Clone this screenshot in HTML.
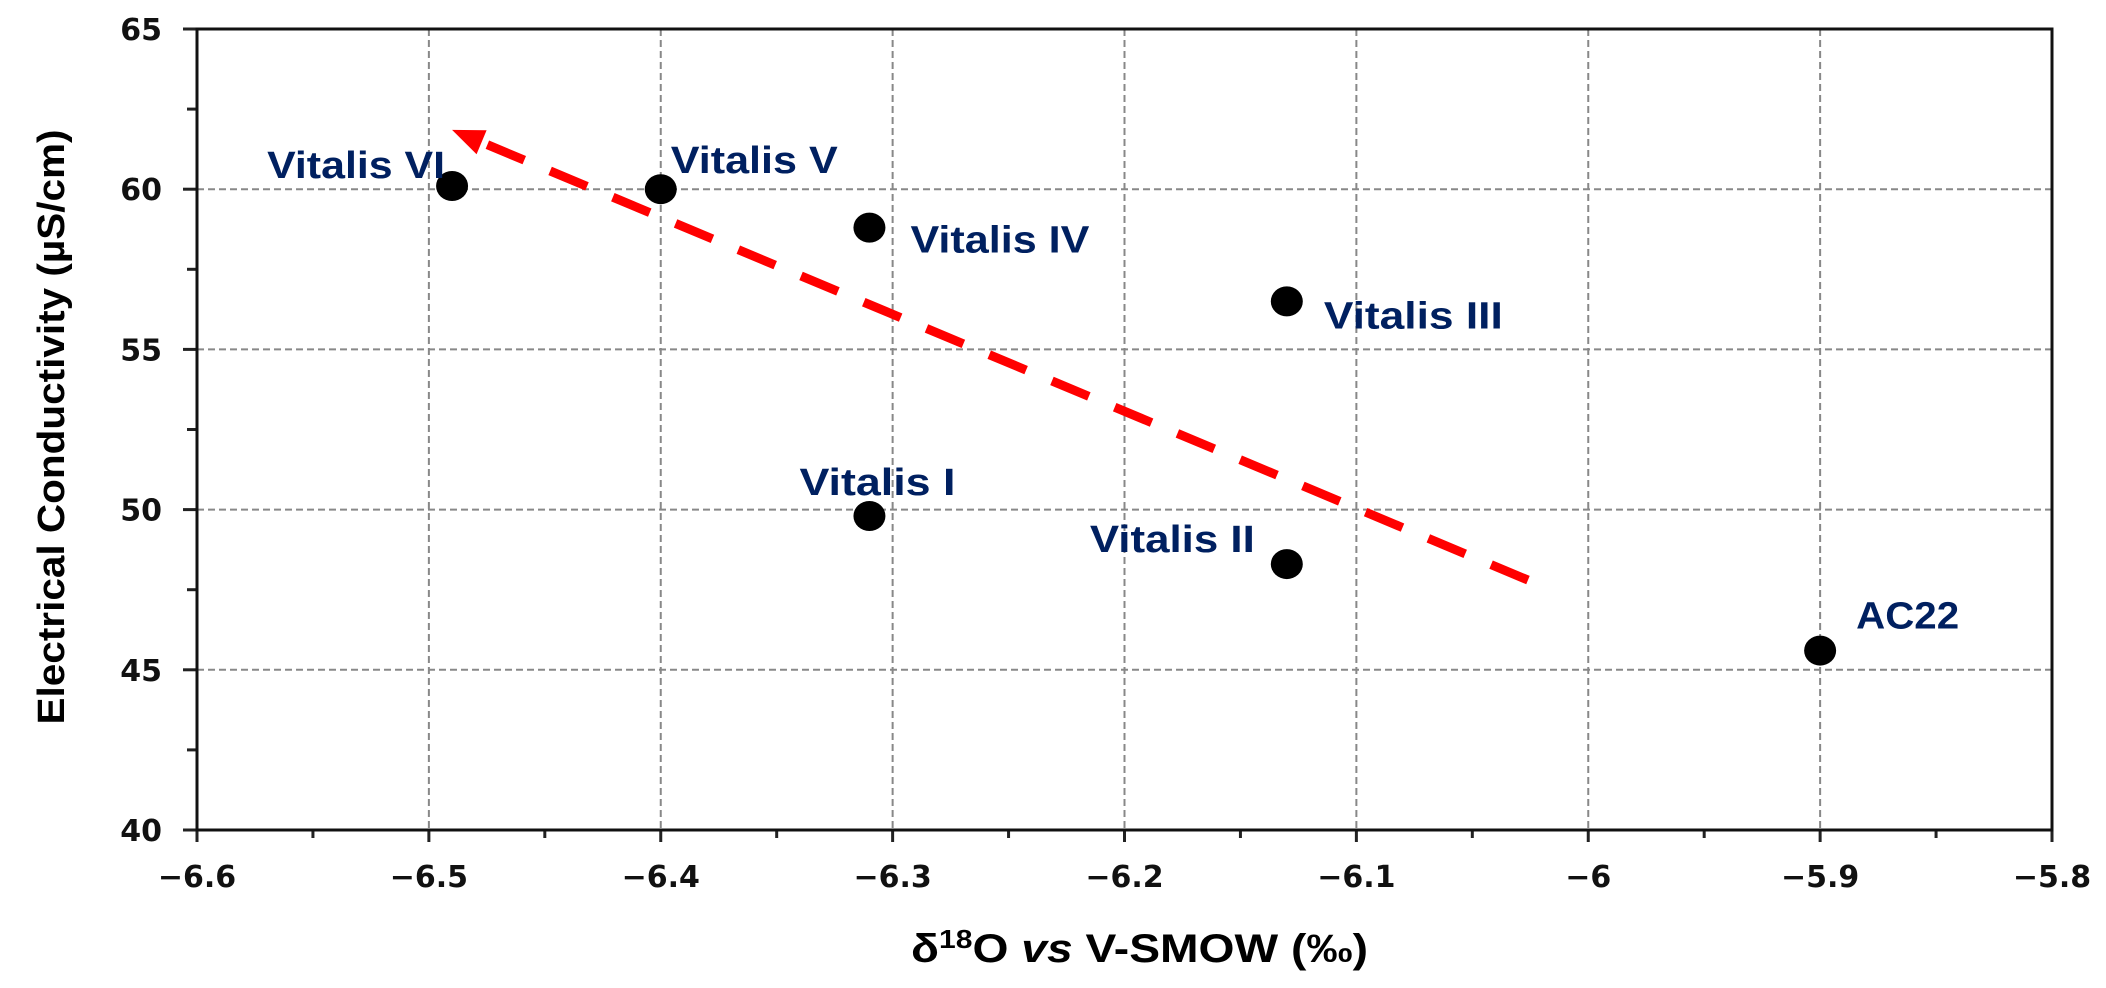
<!DOCTYPE html>
<html><head><meta charset="utf-8"><style>
html,body{margin:0;padding:0;background:#fff;}
svg{display:block;}
</style></head><body>
<svg id="chart" width="2106" height="988" viewBox="0 0 2106 988" xmlns="http://www.w3.org/2000/svg">
<g id="grid"></g>
<g id="axes"></g>
<g id="trend"></g>
<g id="points"></g>
<g id="labels"></g>
<text transform="translate(64,427) rotate(-90)" text-anchor="middle" font-family="Liberation Sans, sans-serif" font-weight="bold" font-size="38" textLength="595" lengthAdjust="spacingAndGlyphs">Electrical Conductivity (µS/cm)</text>
<text x="911" y="962" font-family="Liberation Sans, sans-serif" font-weight="bold" font-size="40" textLength="457" lengthAdjust="spacingAndGlyphs">δ<tspan font-size="26" dy="-14">18</tspan><tspan dy="14">O </tspan><tspan font-style="italic">vs</tspan> V-SMOW (‰)</text>
</svg>
<script>
const sampleNames = ["Vitalis VI","Vitalis V","Vitalis IV","Vitalis III","Vitalis I","Vitalis II","AC22"];
const d18O = [-6.49,-6.40,-6.31,-6.13,-6.31,-6.13,-5.90];
const ecValues = [60.1,60.0,58.8,56.5,49.8,48.3,45.6];
const xTicks = [-6.6,-6.5,-6.4,-6.3,-6.2,-6.1,-6,-5.9,-5.8];
const xTickLabels = ["\u22126.6","\u22126.5","\u22126.4","\u22126.3","\u22126.2","\u22126.1","\u22126","\u22125.9","\u22125.8"];
const yTicks = [40,45,50,55,60,65];
const trendStart = [-6.026,47.8];
const trendEnd = [-6.49,61.85];

const L=197,R=2052,T=29,B=830;
const xmin=-6.6,xmax=-5.8,ymin=40,ymax=65;
const sx=v=>L+(v-xmin)/(xmax-xmin)*(R-L);
const sy=v=>B-(v-ymin)/(ymax-ymin)*(B-T);
const NS="http://www.w3.org/2000/svg";
function mk(tag,attrs,parent){const e=document.createElementNS(NS,tag);for(const k in attrs)e.setAttribute(k,attrs[k]);parent.appendChild(e);return e;}
const grid=document.getElementById('grid'),axes=document.getElementById('axes');
xTicks.forEach((v,i)=>{
  const x=sx(v);
  if(i>0&&i<xTicks.length-1){const g=mk('line',{x1:x,x2:x,y1:T,y2:B,stroke:'#888','stroke-width':2,'stroke-dasharray':'7 4'},grid);
  
  }
  const t=mk('line',{x1:x,x2:x,y1:B,y2:B+12,stroke:'#222','stroke-width':3},axes);
  
  
  if(i<xTicks.length-1){const m=mk('line',{x1:sx(v+0.05),x2:sx(v+0.05),y1:B,y2:B+8,stroke:'#222','stroke-width':3},axes);
  
  }
  const lb=mk('text',{x:x,y:887,'text-anchor':'middle','font-family':'DejaVu Sans, sans-serif','font-weight':'bold','font-size':30,fill:'#111'},axes);
  lb.textContent=xTickLabels[i];
  
  
});
yTicks.forEach((v,i)=>{
  const y=sy(v);
  if(i>0&&i<yTicks.length-1){const g=mk('line',{x1:L,x2:R,y1:y,y2:y,stroke:'#888','stroke-width':2,'stroke-dasharray':'7 4'},grid);
  
  }
  const t=mk('line',{x1:L-14,x2:L,y1:y,y2:y,stroke:'#222','stroke-width':3},axes);
  
  
  if(i<yTicks.length-1){const m=mk('line',{x1:L-10,x2:L,y1:sy(v+2.5),y2:sy(v+2.5),stroke:'#222','stroke-width':3},axes);
  
  }
  const lb=mk('text',{x:162,y:y+11,'text-anchor':'end','font-family':'DejaVu Sans, sans-serif','font-weight':'bold','font-size':30,fill:'#111'},axes);
  lb.textContent=String(v);
  
  
});
const frame=mk('rect',{x:L,y:T,width:R-L,height:B-T,fill:'none',stroke:'#111','stroke-width':3},axes);



// trend arrow
const trend=document.getElementById('trend');
const x1=sx(trendStart[0]),y1=sy(trendStart[1]),x2=sx(trendEnd[0]),y2=sy(trendEnd[1]);
const ang=Math.atan2(y2-y1,x2-x1),hl=32,hw=13;
const bx=x2-hl*Math.cos(ang),by=y2-hl*Math.sin(ang);
const tl=mk('line',{x1:x1,y1:y1,x2:bx,y2:by,stroke:'#ff0000','stroke-width':9,'stroke-dasharray':'40 28'},trend);


const px=-Math.sin(ang),py=Math.cos(ang);
const hd=mk('polygon',{points:`${x2},${y2} ${bx+px*hw},${by+py*hw} ${bx-px*hw},${by-py*hw}`,fill:'#ff0000'},trend);



// points
const pts=document.getElementById('points');
const labs=document.getElementById('labels');
const labelPos=[[-185,-8,178],[10,-16,167],[41,25,179],[37,27,179],[-70,-21,156],[-197,-12,165],[36,-22,103]];
d18O.forEach((v,i)=>{
  const cx=sx(v),cy=sy(ecValues[i]);
  const c=mk('ellipse',{cx:cx,cy:cy,rx:16,ry:15,fill:'#000'},pts);
  
  
  const p=labelPos[i];
  const t=mk('text',{x:cx+p[0],y:cy+p[1],'font-family':'Liberation Sans, sans-serif','font-weight':'bold','font-size':38,fill:'#002060',textLength:p[2],lengthAdjust:'spacingAndGlyphs'},labs);
  t.textContent=sampleNames[i];
  
  
});
</script>
</body></html>
